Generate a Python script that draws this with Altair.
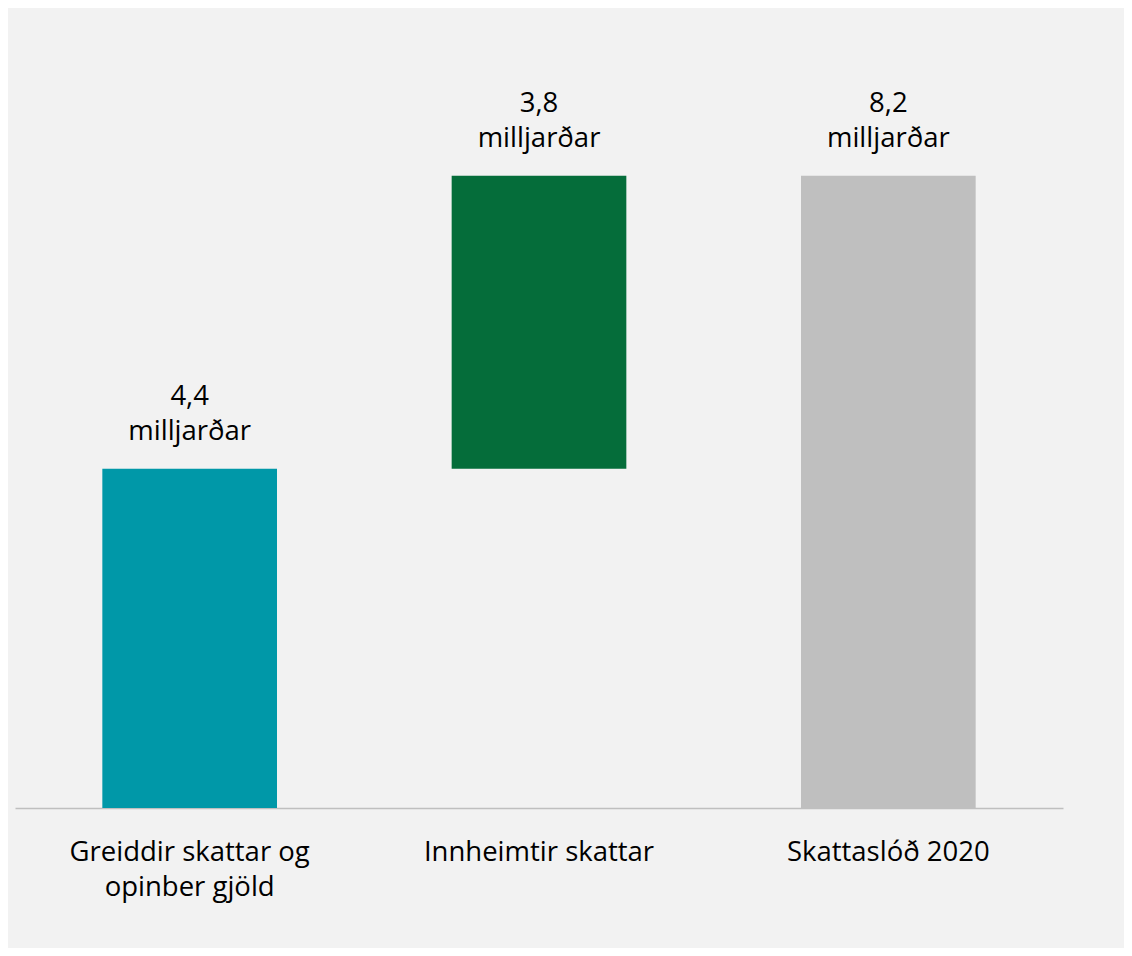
import altair as alt
import pandas as pd

categories = ["Greiddir skattar og|opinber gjöld", "Innheimtir skattar", "Skattaslóð 2020"]
starts = [0.0, 4.4, 0.0]
ends = [4.4, 8.2, 8.2]
values = ["4,4", "3,8", "8,2"]
colors = ["#0098a8", "#056d3a", "#bfbfbf"]

df = pd.DataFrame({
    "cat": categories,
    "start": starts,
    "end": ends,
    "label": [[v, "milljarðar"] for v in values],
    "color": colors,
})

FONT = "Open Sans"
FS = 27.5

x = alt.X("cat:N", sort=categories, title=None,
          scale=alt.Scale(paddingInner=0.5, paddingOuter=0.25),
          axis=alt.Axis(labelAngle=0, ticks=False, domainColor="#bfbfbf", domainWidth=1.5,
                        labelFont=FONT, labelFontSize=FS, labelColor="#000000",
                        labelPadding=30, labelLimit=400, labelLineHeight=35,
                        labelExpr="split(datum.label, '|')"))
y_scale = alt.Scale(domain=[0, 10])

bars = alt.Chart(df).mark_bar().encode(
    x=x,
    y=alt.Y("start:Q", scale=y_scale, axis=None),
    y2="end:Q",
    color=alt.Color("color:N", scale=None),
)

text = alt.Chart(df).mark_text(font=FONT, fontSize=FS, color="#000000", baseline="bottom",
                               dy=-58, lineHeight=35).encode(
    x=alt.X("cat:N", sort=categories),
    y=alt.Y("end:Q", scale=y_scale),
    text="label",
)

chart = (bars + text).properties(
    width=1048, height=771,
    background="#f2f2f2",
    padding={"left": 7, "top": 29, "right": 61, "bottom": 140},
    autosize=alt.AutoSizeParams(type="none"),
).configure_view(stroke=None)

chart.save("out.html", embed_options={"renderer": "svg", "actions": False})
